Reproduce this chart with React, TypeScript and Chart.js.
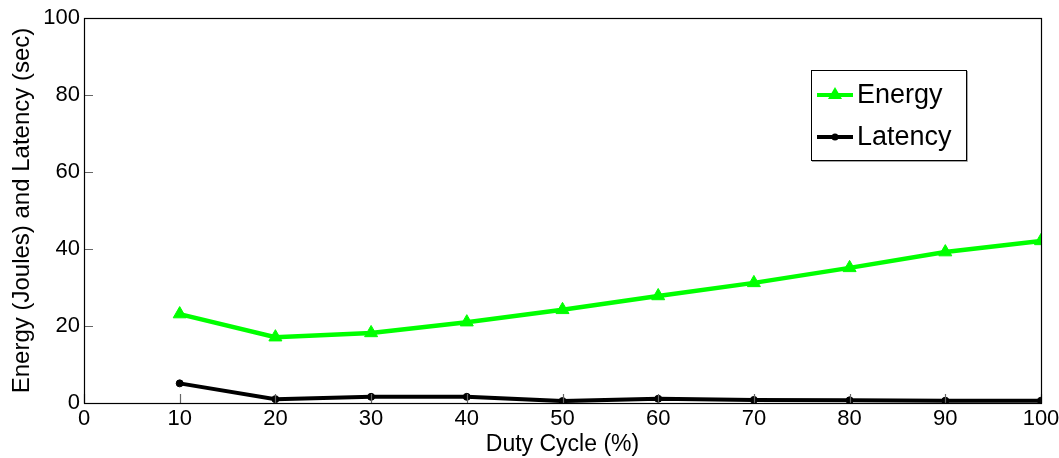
import React, { useEffect, useRef } from "react";
import { Chart, registerables } from "chart.js";

Chart.register(...registerables);

const dutyCycle = [10, 20, 30, 40, 50, 60, 70, 80, 90, 100];
const energy = [23.1, 17.1, 18.2, 21, 24.2, 27.8, 31.2, 35.1, 39.2, 42.1];
const latency = [5.1, 1, 1.6, 1.6, 0.5, 1.1, 0.8, 0.7, 0.6, 0.6];
const xTicks = [0, 10, 20, 30, 40, 50, 60, 70, 80, 90, 100];
const yTicks = [0, 20, 40, 60, 80, 100];

const FONT = "'Liberation Sans', Arial, sans-serif";

const frame = {
  id: "frame",
  afterDatasetsDraw(chart: any) {
    const { ctx, chartArea: a, scales } = chart;
    ctx.save();
    // inward ticks
    ctx.strokeStyle = "#666";
    ctx.lineWidth = 1.2;
    ctx.beginPath();
    xTicks.forEach((v) => {
      const x = Math.round(scales.x.getPixelForValue(v)) + 0.5;
      ctx.moveTo(x, a.bottom);
      ctx.lineTo(x, a.bottom - 9);
    });
    yTicks.forEach((v) => {
      const y = Math.round(scales.y.getPixelForValue(v)) + 0.5;
      ctx.moveTo(a.left, y);
      ctx.lineTo(a.left + 9, y);
    });
    ctx.stroke();
    // box
    ctx.strokeStyle = "#000";
    ctx.lineWidth = 1.2;
    ctx.strokeRect(Math.round(a.left) + 0.5, Math.round(a.top) + 0.5, Math.round(a.right - a.left), Math.round(a.bottom - a.top));

    // legend
    const lx = 811, ly = 70, lw = 155, lh = 90;
    ctx.fillStyle = "#fff";
    ctx.fillRect(lx, ly, lw, lh);
    ctx.strokeStyle = "#888";
    ctx.lineWidth = 1.5;
    ctx.beginPath();
    ctx.moveTo(lx + 1, ly + lh + 1);
    ctx.lineTo(lx + lw + 1, ly + lh + 1);
    ctx.lineTo(lx + lw + 1, ly + 1);
    ctx.stroke();
    ctx.strokeStyle = "#000";
    ctx.lineWidth = 1;
    ctx.strokeRect(lx + 0.5, ly + 0.5, lw, lh);
    const rows = [
      { label: "Energy", y: 95, color: "#00ff00", marker: "tri" },
      { label: "Latency", y: 137, color: "#000000", marker: "dot" },
    ];
    rows.forEach((r) => {
      ctx.strokeStyle = r.color;
      ctx.fillStyle = r.color;
      ctx.lineWidth = 4;
      ctx.beginPath();
      ctx.moveTo(817, r.y);
      ctx.lineTo(853, r.y);
      ctx.stroke();
      const cx = 835;
      ctx.beginPath();
      if (r.marker === "tri") {
        ctx.moveTo(cx, r.y - 8);
        ctx.lineTo(cx + 7, r.y + 4);
        ctx.lineTo(cx - 7, r.y + 4);
        ctx.closePath();
      } else {
        ctx.arc(cx, r.y, 3.5, 0, Math.PI * 2);
      }
      ctx.fill();
      ctx.fillStyle = "#000";
      ctx.font = `27px ${FONT}`;
      ctx.textAlign = "left";
      ctx.textBaseline = "middle";
      ctx.fillText(r.label, 857, r.y + 1);
    });
    ctx.restore();
  },
};

export default function App() {
  const ref = useRef<HTMLCanvasElement>(null);
  useEffect(() => {
    document.body.style.margin = "0";
    const chart = new Chart(ref.current!, {
      type: "line",
      data: {
        datasets: [
          {
            label: "Energy",
            data: dutyCycle.map((x, i) => ({ x, y: energy[i] })),
            borderColor: "#00ff00",
            backgroundColor: "#00ff00",
            borderWidth: 4.5,
            pointStyle: "triangle",
            pointRadius: 7.5,
            pointBorderWidth: 1,
          },
          {
            label: "Latency",
            data: dutyCycle.map((x, i) => ({ x, y: latency[i] })),
            borderColor: "#000000",
            backgroundColor: "#000000",
            borderWidth: 4,
            pointStyle: "circle",
            pointRadius: 3.5,
            pointBorderWidth: 1,
          },
        ],
      },
      options: {
        animation: false,
        responsive: false,
        layout: { padding: { left: 0, right: 18, top: 18, bottom: 0 } },
        plugins: { legend: { display: false }, tooltip: { enabled: false } },
        scales: {
          x: {
            type: "linear",
            min: 0,
            max: 100,
            afterBuildTicks: (s: any) => {
              s.ticks = xTicks.map((v) => ({ value: v }));
            },
            afterFit: (s: any) => {
              s.height = 55;
              s.paddingRight = 0;
              s.paddingLeft = 0;
            },
            grid: { display: false, drawTicks: false },
            border: { display: false },
            ticks: {
              color: "#000",
              font: { family: FONT, size: 22 },
              padding: 3,
              maxRotation: 0,
            },
            title: {
              display: true,
              text: "Duty Cycle (%)",
              color: "#000",
              font: { family: FONT, size: 23 },
              padding: { top: -6, bottom: 0 },
            },
          },
          y: {
            min: 0,
            max: 100,
            afterBuildTicks: (s: any) => {
              s.ticks = yTicks.map((v) => ({ value: v }));
            },
            afterFit: (s: any) => {
              s.width = 84;
              s.paddingTop = 0;
              s.paddingBottom = 0;
            },
            grid: { display: false, drawTicks: false },
            border: { display: false },
            ticks: {
              color: "#000",
              font: { family: FONT, size: 22 },
              padding: 4,
            },
            title: {
              display: true,
              text: "Energy (Joules) and Latency (sec)",
              color: "#000",
              font: { family: FONT, size: 24 },
              padding: { top: 8, bottom: 0 },
            },
          },
        },
      },
      plugins: [frame],
    });
    return () => chart.destroy();
  }, []);
  return (
    <div style={{ position: "fixed", left: 0, top: 0, width: 1059, height: 458, background: "#fff" }}>
      <canvas ref={ref} width={1059} height={458} style={{ width: 1059, height: 458 }} />
    </div>
  );
}
